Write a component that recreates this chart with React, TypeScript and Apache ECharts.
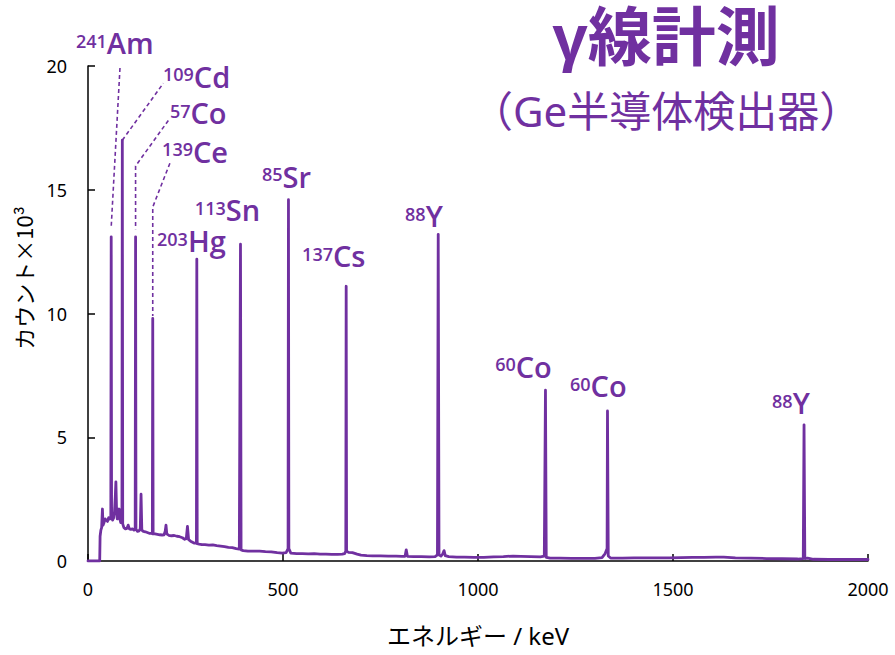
import React, { useEffect, useRef } from 'react';
import * as echarts from 'echarts';

// ---- data ----
// gamma spectrum: [energy keV, counts ×10^3]
const spectrum: [number, number][] = [
  [0, 0], [30, 0], [31, 1.0], [33, 1.25], [35, 1.35], [37, 2.1], [38.5, 1.45], [41, 1.55], [44, 1.7],
  [47, 1.65], [50, 1.6], [53, 1.75], [56, 1.7], [58.5, 1.8], [59.5, 13.1], [60.5, 1.8], [63, 1.65],
  [66, 1.75], [68, 2.0], [70, 2.6], [71.5, 3.2], [73, 2.2], [75, 1.7], [77, 1.75], [79, 2.0], [80, 2.1],
  [81.5, 1.7], [84, 1.55], [87, 1.6], [88, 17.0], [89, 1.5], [92, 1.35], [96, 1.3], [100, 1.32],
  [103, 1.45], [106, 1.3], [110, 1.28], [114, 1.3], [118, 1.25], [121, 1.3], [122, 13.1], [123, 1.28],
  [127, 1.2], [131, 1.22], [134, 1.3], [136, 2.7], [138, 1.25], [142, 1.2], [147, 1.18], [152, 1.15],
  [157, 1.12], [162, 1.12], [165, 1.1], [166, 9.8], [167, 1.1], [172, 1.1], [178, 1.08], [184, 1.06],
  [190, 1.05], [195, 1.06], [198, 1.2], [200, 1.45], [202, 1.1], [207, 1.04], [214, 1.02], [221, 1.03],
  [228, 1.0], [235, 0.98], [242, 0.94], [248, 0.88], [252, 0.9], [255, 1.4], [258, 0.86], [263, 0.8],
  [268, 0.76], [273, 0.72], [278, 0.72], [279, 12.2], [280, 0.7], [285, 0.68], [292, 0.66], [300, 0.66],
  [310, 0.64], [320, 0.65], [330, 0.62], [340, 0.6], [350, 0.58], [360, 0.55], [370, 0.54], [380, 0.5],
  [388, 0.48], [391, 12.8], [392.5, 0.45], [398, 0.42], [410, 0.4], [425, 0.4], [440, 0.4], [455, 0.38],
  [470, 0.37], [485, 0.34], [498, 0.32], [508, 0.34], [513, 0.5], [514, 14.6], [515, 0.5], [520, 0.32],
  [535, 0.3], [550, 0.3], [565, 0.29], [580, 0.3], [595, 0.28], [610, 0.28], [625, 0.27], [640, 0.27],
  [652, 0.28], [658, 0.3], [661, 0.4], [662, 11.1], [663, 0.4], [668, 0.35], [678, 0.34], [690, 0.28],
  [700, 0.24], [715, 0.22], [730, 0.21], [750, 0.21], [770, 0.2], [790, 0.2], [805, 0.19], [813, 0.19],
  [816, 0.45], [819, 0.19], [835, 0.18], [855, 0.18], [875, 0.17], [890, 0.18], [896, 0.25], [898, 13.2],
  [900, 0.25], [905, 0.2], [910, 0.3], [913, 0.42], [916, 0.22], [925, 0.18], [945, 0.16], [965, 0.16],
  [990, 0.15], [1015, 0.15], [1040, 0.17], [1065, 0.18], [1090, 0.2], [1110, 0.19], [1135, 0.18],
  [1160, 0.17], [1170, 0.2], [1173, 6.9], [1175, 0.15], [1185, 0.12], [1210, 0.12], [1240, 0.11],
  [1270, 0.11], [1300, 0.11], [1318, 0.14], [1326, 0.3], [1331, 0.5], [1332, 6.06], [1334, 0.2],
  [1340, 0.12], [1370, 0.12], [1400, 0.13], [1430, 0.13], [1460, 0.13], [1490, 0.13], [1520, 0.14],
  [1550, 0.15], [1580, 0.15], [1610, 0.16], [1630, 0.16], [1660, 0.13], [1700, 0.12], [1740, 0.1],
  [1780, 0.09], [1820, 0.08], [1834, 0.1], [1836, 5.5], [1838, 0.1], [1845, 0.12], [1860, 0.07],
  [1900, 0.06], [1950, 0.06], [2000, 0.06],
];

const xTicks = { min: 0, max: 2000, interval: 500 };
const yTicks = { min: 0, max: 20, interval: 5 };

// isotope labels: mass number, element, anchor (top-left) in data coords [keV, count]
const isotopeMass = ['241', '109', '57', '139', '85', '113', '203', '137', '88', '60', '60', '88'];
const isotopeElement = ['Am', 'Cd', 'Co', 'Ce', 'Sr', 'Sn', 'Hg', 'Cs', 'Y', 'Co', 'Co', 'Y'];
const isotopeAnchor: [number, number][] = [
  [-31, 21.54], [192, 20.2], [210, 18.71], [190, 17.17], [446, 16.16], [274, 14.79],
  [177, 13.54], [549, 12.93], [813, 14.55], [1044, 8.48], [1236, 7.68], [1754, 6.99],
];

// dashed leader lines (data coords)
const leaders: [number, number][][] = [
  [[82, 19.92], [59.5, 13.5]],
  [[88, 17.0], [193, 19.3]],
  [[206, 17.8], [122, 15.96], [122, 13.4]],
  [[210, 16.07], [166, 14.3], [166, 9.9]],
];

const titleText = 'γ線計測';
const subtitleText = '（Ge半導体検出器）';
const xName = 'エネルギー / keV';
const yName = 'カウント×10³';

const PURPLE = '#7030A0';
const FONT = "'Noto Sans', 'Noto Sans CJK JP', sans-serif";
const FONT_JP = "'Noto Sans CJK JP', sans-serif";
const FONT_LABEL = "'Open Sans', 'Noto Sans', sans-serif";
const FONT_TITLE = "'Liberation Sans', 'Noto Sans CJK JP', sans-serif";

export default function App() {
  const ref = useRef<HTMLDivElement>(null);
  useEffect(() => {
    const chart = echarts.init(ref.current!, undefined, { renderer: 'svg' });
    chart.setOption({
      animation: false,
      backgroundColor: '#fff',
      grid: { left: 88, right: 27, top: 66, bottom: 94 },
      xAxis: {
        type: 'value',
        ...xTicks,
        name: xName,
        nameLocation: 'middle',
        nameGap: 62,
        nameTextStyle: { fontSize: 24, color: '#000', fontFamily: FONT },
        axisLine: { show: true, onZero: false, lineStyle: { color: '#000', width: 1.5 } },
        axisTick: { show: true, inside: true, length: 7, lineStyle: { color: '#000', width: 1.5 } },
        axisLabel: {
          fontSize: 18,
          color: '#000',
          margin: 19,
          fontFamily: FONT,
          formatter: (v: number) => String(v),
        },
        splitLine: { show: false },
      },
      yAxis: {
        type: 'value',
        ...yTicks,
        axisLine: { show: true, lineStyle: { color: '#000', width: 1.5 } },
        axisTick: { show: true, inside: true, length: 7, lineStyle: { color: '#000', width: 1.5 } },
        axisLabel: { fontSize: 18, color: '#000', margin: 21, fontFamily: FONT },
        splitLine: { show: false },
      },
      series: [
        {
          type: 'line',
          data: spectrum,
          showSymbol: false,
          symbol: 'none',
          lineStyle: { color: PURPLE, width: 2.8, join: 'round', cap: 'round' },
          z: 3,
        },
        {
          type: 'lines',
          coordinateSystem: 'cartesian2d',
          polyline: true,
          silent: true,
          data: leaders.map((c) => ({ coords: c })),
          lineStyle: { color: PURPLE, width: 1.6, type: [4, 3], opacity: 1 },
          z: 4,
        },
      ],
    });

    const labelGraphics = isotopeMass.map((m, i) => {
      const p = chart.convertToPixel({ gridIndex: 0 }, isotopeAnchor[i]) as number[];
      return {
        type: 'text',
        x: p[0],
        y: p[1] - 2,
        z: 10,
        style: {
          text: `{s|${m}}{e|${isotopeElement[i]}}`,
          fill: PURPLE,
          fontFamily: FONT_LABEL,
          fontWeight: 600,
          align: 'left',
          verticalAlign: 'top',
          rich: {
            s: {
              fontSize: 18,
              lineHeight: 26,
              verticalAlign: 'top',
              padding: [6, 0, 0, 0],
              fill: PURPLE,
              fontFamily: FONT_LABEL,
              fontWeight: 600,
            },
            e: {
              fontSize: 29,
              lineHeight: 34,
              verticalAlign: 'middle',
              fill: PURPLE,
              fontFamily: FONT_LABEL,
              fontWeight: 600,
            },
          },
        },
      };
    });

    chart.setOption({
      graphic: [
        {
          type: 'text',
          x: 666,
          y: 38,
          style: {
            text: titleText,
            fill: PURPLE,
            fontSize: 64,
            fontWeight: 'bold',
            fontFamily: FONT_TITLE,
            align: 'center',
            verticalAlign: 'middle',
          },
        },
        {
          type: 'text',
          x: 666,
          y: 110,
          style: {
            text: subtitleText,
            fill: PURPLE,
            fontSize: 42,
            fontFamily: FONT,
            align: 'center',
            verticalAlign: 'middle',
          },
        },
        {
          type: 'text',
          x: 23,
          y: 278,
          rotation: Math.PI / 2,
          style: {
            text: yName,
            fill: '#000',
            fontSize: 22,
            fontFamily: FONT_JP,
            align: 'center',
            verticalAlign: 'middle',
          },
        },
        ...labelGraphics,
      ],
    });
    return () => chart.dispose();
  }, []);
  return <div ref={ref} style={{ position: 'fixed', left: 0, top: 0, width: 895, height: 655 }} />;
}
